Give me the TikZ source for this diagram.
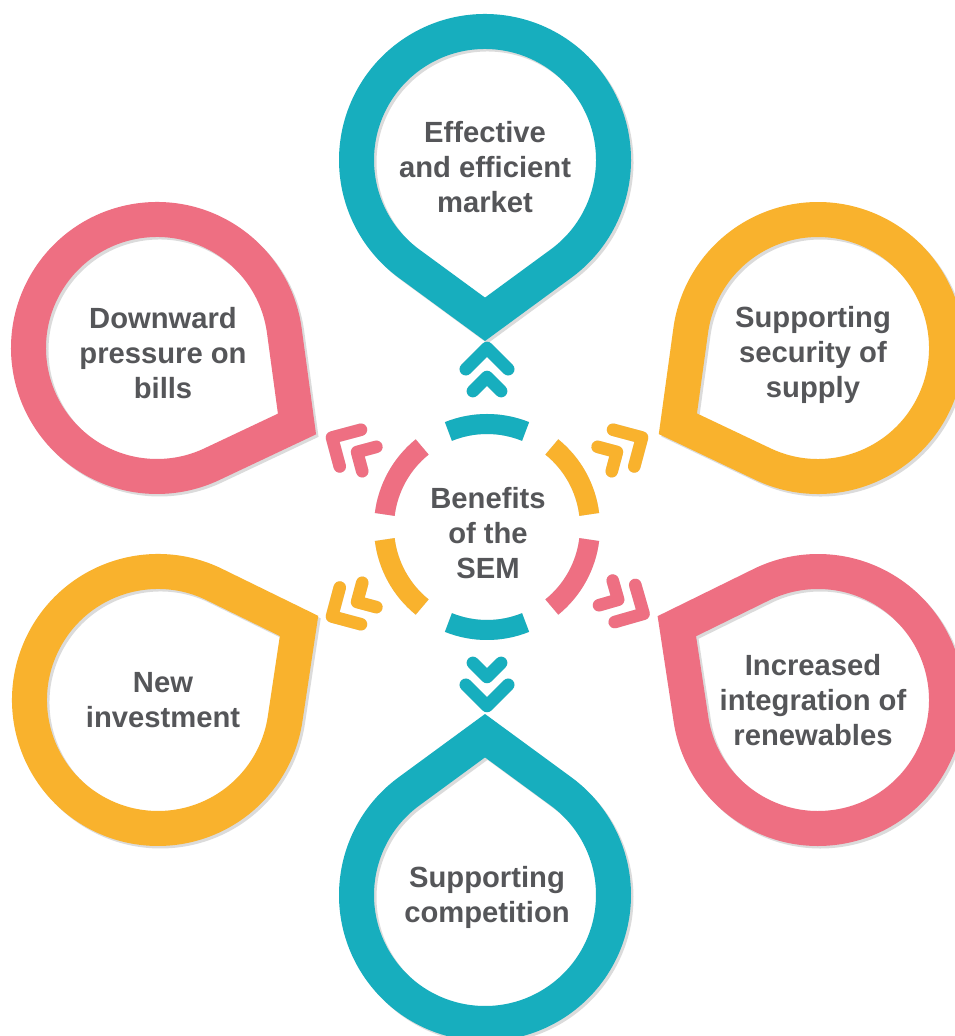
\documentclass[tikz,border=0pt]{standalone}
\usepackage{fontspec}
\setmainfont{Liberation Sans}
\usetikzlibrary{calc}
\definecolor{cteal}{HTML}{17AEBE}
\definecolor{corange}{HTML}{F9B22D}
\definecolor{cpink}{HTML}{EE6F82}
\definecolor{ctext}{HTML}{555659}
\tikzset{
  ringline/.style={line width=35pt, line join=miter},
  shade/.style={draw=black, opacity=0.14, shift={(2.5,-2.5)}},
  lbl/.style={text=ctext, align=center, font=\fontsize{29.2}{35}\selectfont\bfseries, inner sep=0pt},
  chev/.style={line width=12.5pt, line cap=round, line join=round},
  arcseg/.style={line width=20pt},
}
% drop outline (centre line of the ring)
\newcommand\droppath[3]{($(#1,#2)+(#3:159.3)$) -- ($(#1,#2)+(#3+36.2:128.5)$) arc[start angle=#3+36.2, end angle=#3+323.8, radius=128.5] -- cycle}
\newcommand\dropring[4]{%
  \draw[ringline, shade] \droppath{#1}{#2}{#3};
  \draw[ringline, draw=#4] \droppath{#1}{#2}{#3};
}
\newcommand\chevpath[1]{($(M)+(#1:157.8)+(#1+90:21.2)$) -- ($(M)+(#1:179)$) -- ($(M)+(#1:157.8)+(#1-90:21.2)$)
  ($(M)+(#1:135.9)+(#1+90:14.1)$) -- ($(M)+(#1:150)$) -- ($(M)+(#1:135.9)+(#1-90:14.1)$)}
\newcommand\chevpair[2]{%
  \draw[chev, shade] \chevpath{#1};
  \draw[chev, draw=#2] \chevpath{#1};
}
\newcommand\ringarc[2]{%
  \draw[arcseg, shade] ($(M)+(#1-22:103)$) arc[start angle=#1-22, end angle=#1+22, radius=103];
  \draw[arcseg, draw=#2] ($(M)+(#1-22:103)$) arc[start angle=#1-22, end angle=#1+22, radius=103];
}
\begin{document}
\begin{tikzpicture}[x=1pt,y=1pt]
\useasboundingbox (0,0) rectangle (955,1036);
\clip (0,0) rectangle (955,1036);
\fill[white] (0,0) rectangle (955,1036);
\coordinate (M) at (487,509);

% drops
\dropring{485}{876}{-90}{cteal}
\dropring{485}{141}{90}{cteal}
\dropring{157}{688}{-28.5}{cpink}
\dropring{818}{688}{208.4}{corange}
\dropring{158}{336}{27.7}{corange}
\dropring{818}{336}{152.4}{cpink}

% central ring
\ringarc{90}{cteal}
\ringarc{29}{corange}
\ringarc{-29}{cpink}
\ringarc{-90}{cteal}
\ringarc{209}{corange}
\ringarc{151}{cpink}

% chevrons
\chevpair{90}{cteal}
\chevpair{-90}{cteal}
\chevpair{30}{corange}
\chevpair{-29}{cpink}
\chevpair{210}{corange}
\chevpair{150}{cpink}

% labels
\node[lbl] (top) at (485,869) {Effective\\and efficient\\market};
\node[lbl] (ur) at (813,681) {Supporting\\security of\\supply};
\node[lbl] (ul) at (163,683) {Downward\\pressure on\\bills};
\node[lbl] (ll) at (163,336) {New\\investment};
\node[lbl] (lr) at (813,336) {Increased\\integration of\\renewables};
\node[lbl] (bot) at (487,139) {Supporting\\competition};
\node[lbl] (cen) at (488,503) {Benefits\\of the\\SEM};
\end{tikzpicture}
\end{document}
